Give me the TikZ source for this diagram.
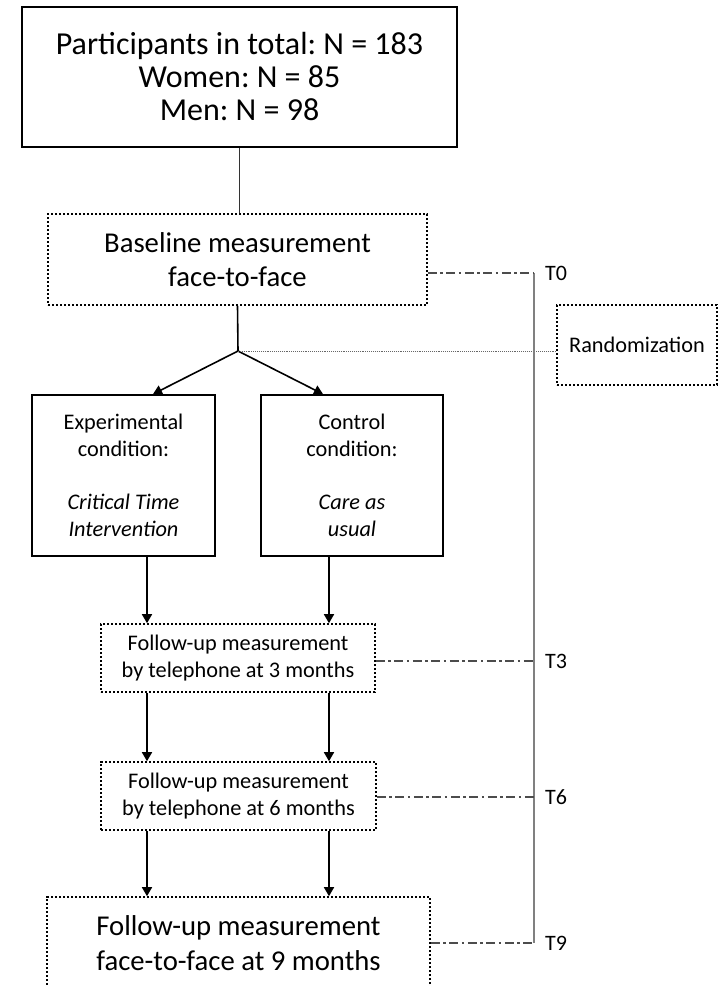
\documentclass[tikz,border=0pt]{standalone}
\usepackage{fontspec}
\setmainfont{Carlito}
\frenchspacing
\usetikzlibrary{arrows.meta}
\tikzset{
  solidbox/.style={draw, line width=1.8pt, inner sep=0pt, align=center},
  dotbox/.style={draw, line width=1.6pt, dash pattern=on 2.4pt off 1.6pt, inner sep=0pt, align=center},
  flow/.style={-{Triangle[length=9pt, width=10pt]}, line width=1.6pt},
  link/.style={line width=1.3pt, black!80},
  timeline/.style={draw=gray, line width=1.6pt},
  tick/.style={draw=black!70, line width=1.2pt, dash pattern=on 9pt off 3.5pt on 2.5pt off 3.5pt},
  tlabel/.style={anchor=west, inner sep=0pt, xshift=11pt, font=\fontsize{22}{26}\selectfont},
}
\newcommand{\bigtxt}{\fontsize{32}{33}\selectfont}
\newcommand{\midtxt}{\fontsize{28.7}{34.5}\selectfont}
\newcommand{\smalltxt}{\fontsize{22.3}{27}\selectfont}

\begin{document}
\begin{tikzpicture}[x=1pt, y=1pt]
  \useasboundingbox (0,0) rectangle (721,-986);

  % Boxes
  \node[solidbox, minimum width=435pt, minimum height=140pt, font=\bigtxt] (total) at (239.5,-77)
    {Participants in total: N = 183\\Women: N = 85\\Men: N = 98};
  \node[dotbox, minimum width=379pt, minimum height=91pt, font=\midtxt] (base) at (237.5,-259.5)
    {Baseline measurement\\face-to-face};
  \node[dotbox, minimum width=160pt, minimum height=80pt, font=\smalltxt] (rand) at (637,-345)
    {Randomization};
  \node[solidbox, minimum width=183pt, minimum height=161pt, font=\smalltxt] (exp) at (123.5,-475.5)
    {Experimental\\condition:\\[26pt]\textit{Critical Time}\\\textit{Intervention}};
  \node[solidbox, minimum width=182pt, minimum height=161pt, font=\smalltxt] (ctrl) at (352,-475.5)
    {Control\\condition:\\[26pt]\textit{Care as}\\\textit{usual}};
  \node[dotbox, minimum width=274pt, minimum height=68pt, font=\smalltxt] (fu3) at (238,-658)
    {Follow-up measurement\\by telephone at 3 months};
  \node[dotbox, minimum width=275pt, minimum height=68pt, font=\smalltxt] (fu6) at (238.5,-796)
    {Follow-up measurement\\by telephone at 6 months};
  \node[dotbox, minimum width=383pt, minimum height=92pt, font=\midtxt] (fu9) at (238.5,-943)
    {Follow-up measurement\\face-to-face at 9 months};

  % Helper points
  \coordinate (split) at (238,-351);
  \coordinate (inL) at (153,0);
  \coordinate (inR) at (323,0);
  \coordinate (colL) at (147,0);
  \coordinate (colR) at (329,0);
  \coordinate (t0) at (534,-273);
  \coordinate (t3) at (534,-661);
  \coordinate (t6) at (534,-797);
  \coordinate (t9) at (534,-943);

  % Flow
  \draw[link] (total.south) -- (total.south |- base.north);
  \draw[line width=1.6pt] (base.south) -- (split);
  \draw[flow] (split) -- (exp.north -| inL);
  \draw[flow] (split) -- (ctrl.north -| inR);
  \draw[densely dotted, black!60, line width=0.9pt] (split) -- (rand.west |- split);
  \draw[flow] (exp.south -| colL) -- (fu3.north -| colL);
  \draw[flow] (ctrl.south -| colR) -- (fu3.north -| colR);
  \foreach \c in {colL, colR} {
    \draw[flow] (fu3.south -| \c) -- (fu6.north -| \c);
    \draw[flow] (fu6.south -| \c) -- (fu9.north -| \c);
  }

  % Time line
  \draw[timeline] (t0) -- (t9);
  \foreach \b/\t/\l in {base/t0/T0, fu3/t3/T3, fu6/t6/T6, fu9/t9/T9} {
    \draw[tick] (\b.east |- \t) -- (\t);
    \node[tlabel] (\l) at (\t) {\l};
  }

\end{tikzpicture}
\end{document}
